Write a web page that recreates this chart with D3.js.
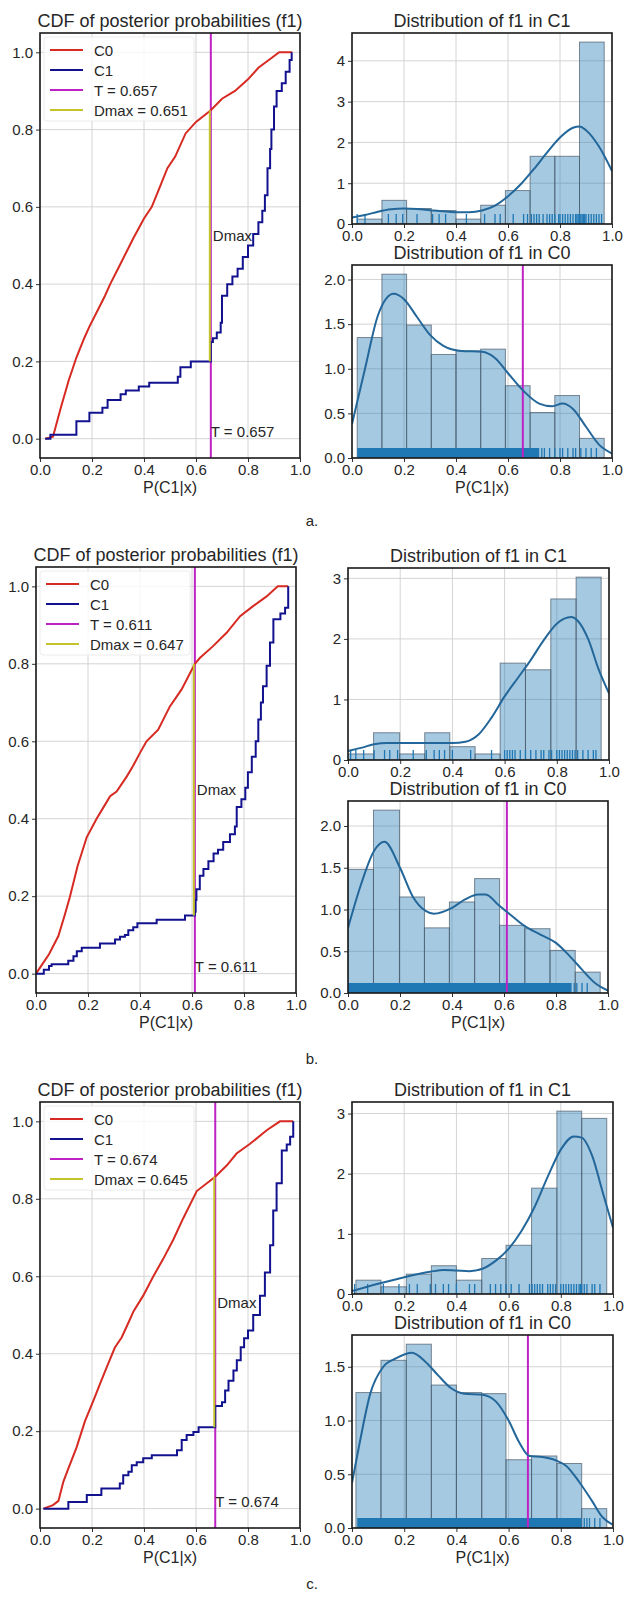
<!DOCTYPE html>
<html>
<head>
<meta charset="utf-8">
<script src="https://cdn.jsdelivr.net/npm/d3@7"></script>
<style>
body { margin: 0; background: #fff; }
text { font-family: "Liberation Sans", Arial, sans-serif; fill: #262626; }
</style>
</head>
<body>
<div id="canvas"></div>
<script>
var w = 624;
var h = 1599;

// ---- data ----
var xTicks = [0, 0.2, 0.4, 0.6, 0.8, 1.0];
var cdfYTicks = [0, 0.2, 0.4, 0.6, 0.8, 1.0];
var letters = ["a.", "b.", "c."];
var thresholds = [0.657, 0.611, 0.674];
var dmaxValues = [0.651, 0.647, 0.645];
var c1YTicks = [[0, 1, 2, 3, 4], [0, 1, 2, 3], [0, 1, 2, 3]];
var c0YTicks = [[0, 0.5, 1, 1.5, 2], [0, 0.5, 1, 1.5, 2], [0, 0.5, 1, 1.5]];

var cdfC0a = [[0.02,0],[0.05,0.005],[0.08,0.08],[0.11,0.15],[0.14,0.21],[0.17,0.26],[0.19,0.29],[0.22,0.33],[0.25,0.37],[0.27,0.40],[0.30,0.44],[0.33,0.48],[0.36,0.52],[0.40,0.57],[0.43,0.60],[0.46,0.65],[0.49,0.70],[0.52,0.73],[0.56,0.79],[0.60,0.82],[0.657,0.85],[0.70,0.88],[0.75,0.90],[0.80,0.93],[0.84,0.96],[0.88,0.98],[0.92,1.0],[0.97,1.0]];
var cdfC1a = [[0.02,0],[0.04,0.01],[0.14,0.045],[0.19,0.067],[0.24,0.08],[0.26,0.10],[0.31,0.115],[0.33,0.125],[0.38,0.135],[0.42,0.145],[0.53,0.16],[0.54,0.185],[0.58,0.20],[0.657,0.25],[0.665,0.26],[0.68,0.275],[0.695,0.30],[0.70,0.37],[0.72,0.40],[0.74,0.42],[0.76,0.44],[0.78,0.47],[0.80,0.50],[0.82,0.53],[0.84,0.56],[0.855,0.59],[0.865,0.63],[0.875,0.70],[0.885,0.75],[0.89,0.80],[0.90,0.86],[0.91,0.90],[0.93,0.92],[0.945,0.95],[0.96,0.98],[0.968,1.0]];
var cdfC0b = [[0.0,0.0],[0.02,0.02],[0.05,0.05],[0.086,0.097],[0.11,0.15],[0.13,0.197],[0.16,0.278],[0.195,0.352],[0.233,0.40],[0.26,0.43],[0.285,0.458],[0.31,0.47],[0.35,0.51],[0.373,0.536],[0.40,0.57],[0.425,0.60],[0.47,0.63],[0.515,0.69],[0.56,0.734],[0.611,0.80],[0.63,0.815],[0.68,0.845],[0.733,0.88],[0.785,0.923],[0.835,0.949],[0.887,0.974],[0.93,1.0],[0.97,1.0]];
var cdfC1b = [[0.0,0],[0.03,0.01],[0.05,0.02],[0.06,0.024],[0.124,0.033],[0.144,0.045],[0.157,0.058],[0.176,0.067],[0.246,0.078],[0.304,0.088],[0.323,0.095],[0.342,0.10],[0.355,0.112],[0.374,0.12],[0.39,0.13],[0.464,0.139],[0.573,0.15],[0.611,0.16],[0.614,0.19],[0.617,0.218],[0.63,0.253],[0.644,0.27],[0.663,0.29],[0.683,0.31],[0.70,0.32],[0.72,0.34],[0.746,0.36],[0.765,0.38],[0.772,0.43],[0.79,0.45],[0.805,0.48],[0.815,0.52],[0.83,0.56],[0.845,0.60],[0.855,0.656],[0.865,0.70],[0.873,0.742],[0.887,0.795],[0.90,0.855],[0.913,0.915],[0.94,0.93],[0.958,0.945],[0.97,1.0]];
var cdfC0c = [[0.013,0],[0.05,0.009],[0.071,0.02],[0.09,0.07],[0.11,0.105],[0.14,0.157],[0.173,0.226],[0.205,0.278],[0.23,0.321],[0.256,0.364],[0.288,0.416],[0.314,0.442],[0.34,0.48],[0.36,0.51],[0.397,0.55],[0.436,0.60],[0.474,0.645],[0.513,0.695],[0.551,0.75],[0.603,0.82],[0.674,0.857],[0.718,0.886],[0.756,0.917],[0.808,0.942],[0.872,0.977],[0.923,1.0],[0.974,1.0]];
var cdfC1c = [[0.013,0],[0.109,0.017],[0.18,0.035],[0.236,0.052],[0.307,0.065],[0.32,0.086],[0.34,0.095],[0.353,0.112],[0.372,0.12],[0.397,0.13],[0.43,0.138],[0.527,0.151],[0.545,0.177],[0.564,0.19],[0.59,0.198],[0.61,0.21],[0.674,0.265],[0.70,0.275],[0.712,0.305],[0.725,0.33],[0.744,0.357],[0.757,0.383],[0.772,0.417],[0.785,0.44],[0.80,0.46],[0.82,0.50],[0.846,0.55],[0.865,0.61],[0.885,0.68],[0.897,0.77],[0.91,0.84],[0.93,0.925],[0.949,0.94],[0.962,0.96],[0.974,1.0]];

var binEdgesA = [0.02,0.115,0.21,0.305,0.40,0.495,0.59,0.685,0.78,0.875,0.97];
var binEdgesB = [0.0,0.098,0.198,0.294,0.39,0.487,0.583,0.68,0.777,0.874,0.97];
var binEdgesC = [0.015,0.111,0.208,0.304,0.40,0.497,0.59,0.688,0.785,0.88,0.976];
var histC1a = [0.12,0.58,0.38,0.33,0.12,0.46,0.82,1.66,1.66,4.46];
var histC0a = [1.35,2.06,1.49,1.16,1.2,1.22,0.81,0.51,0.70,0.22];
var histC1b = [0.1,0.45,0.1,0.45,0.22,0.1,1.6,1.49,2.66,3.02];
var histC0b = [1.48,2.19,1.15,0.78,1.09,1.37,0.81,0.77,0.51,0.25];
var histC1c = [0.23,0.12,0.33,0.47,0.23,0.59,0.81,1.76,3.04,2.92];
var histC0c = [1.26,1.56,1.71,1.33,1.26,1.25,0.635,0.67,0.60,0.18];

var kdeC1a = [[0,0.16],[0.05,0.22],[0.1,0.3],[0.15,0.36],[0.2,0.38],[0.25,0.37],[0.3,0.34],[0.35,0.31],[0.4,0.29],[0.45,0.29],[0.5,0.33],[0.55,0.45],[0.6,0.68],[0.65,0.98],[0.7,1.35],[0.75,1.75],[0.8,2.12],[0.85,2.36],[0.875,2.39],[0.9,2.3],[0.95,1.9],[1.0,1.3]];
var kdeC0a = [[0,0.38],[0.05,1.0],[0.1,1.6],[0.16,1.84],[0.2,1.78],[0.25,1.58],[0.3,1.38],[0.35,1.26],[0.42,1.2],[0.5,1.19],[0.55,1.12],[0.6,0.95],[0.66,0.75],[0.72,0.61],[0.77,0.58],[0.81,0.61],[0.85,0.55],[0.9,0.35],[0.95,0.15],[1.0,0.05]];
var kdeC1b = [[0,0.15],[0.05,0.2],[0.1,0.26],[0.15,0.28],[0.2,0.28],[0.3,0.28],[0.4,0.28],[0.45,0.3],[0.5,0.42],[0.55,0.7],[0.6,1.05],[0.65,1.35],[0.7,1.65],[0.75,1.98],[0.8,2.25],[0.855,2.36],[0.88,2.3],[0.92,2.0],[0.96,1.5],[1.0,1.1]];
var kdeC0b = [[0,0.78],[0.05,1.3],[0.1,1.7],[0.14,1.81],[0.2,1.5],[0.25,1.15],[0.3,0.98],[0.33,0.95],[0.4,1.02],[0.45,1.12],[0.5,1.18],[0.53,1.18],[0.58,1.05],[0.62,0.95],[0.68,0.8],[0.74,0.7],[0.8,0.6],[0.85,0.45],[0.9,0.28],[0.95,0.12],[1.0,0.03]];
var kdeC1c = [[0,0.05],[0.1,0.17],[0.2,0.28],[0.3,0.37],[0.35,0.4],[0.4,0.39],[0.45,0.38],[0.5,0.42],[0.55,0.55],[0.6,0.75],[0.65,1.05],[0.7,1.45],[0.75,1.95],[0.8,2.4],[0.85,2.62],[0.88,2.6],[0.92,2.3],[0.96,1.7],[1.0,1.1]];
var kdeC0c = [[0,0.42],[0.03,0.8],[0.07,1.25],[0.12,1.5],[0.17,1.58],[0.23,1.63],[0.28,1.55],[0.33,1.42],[0.38,1.3],[0.43,1.25],[0.5,1.24],[0.55,1.18],[0.6,1.0],[0.64,0.8],[0.68,0.67],[0.73,0.66],[0.78,0.63],[0.82,0.58],[0.87,0.43],[0.92,0.25],[0.96,0.1],[1.0,0.03]];

var rugC1a = [0.02,0.05,0.14,0.17,0.195,0.25,0.31,0.335,0.36,0.44,0.51,0.55,0.57,0.62,0.66,0.675,0.69,0.70,0.71,0.72,0.735,0.75,0.76,0.77,0.78,0.795,0.80,0.81,0.82,0.83,0.84,0.85,0.86,0.865,0.87,0.875,0.88,0.885,0.89,0.895,0.90,0.91,0.92,0.93,0.94,0.95,0.96];
var rugC1b = [0.01,0.03,0.06,0.10,0.14,0.16,0.19,0.25,0.30,0.33,0.35,0.37,0.40,0.47,0.55,0.60,0.61,0.62,0.63,0.64,0.66,0.68,0.70,0.72,0.74,0.75,0.77,0.78,0.80,0.81,0.82,0.83,0.84,0.85,0.86,0.87,0.88,0.90,0.92,0.94,0.95];
var rugC1c = [0.01,0.06,0.12,0.18,0.22,0.25,0.30,0.32,0.35,0.37,0.40,0.45,0.47,0.53,0.55,0.57,0.59,0.61,0.64,0.68,0.69,0.70,0.71,0.72,0.73,0.75,0.76,0.77,0.78,0.80,0.81,0.82,0.83,0.84,0.85,0.86,0.87,0.875,0.88,0.89,0.90,0.92,0.93,0.95];
var rugBandC0 = [[0.02, 0.72], [0.0, 0.86], [0.02, 0.88]];
var rugC0a = [0.73,0.74,0.76,0.78,0.80,0.81,0.83,0.85,0.86,0.88,0.90,0.92,0.94];
var rugC0b = [0.87,0.88,0.90,0.92];
var rugC0c = [0.89,0.90,0.91,0.93,0.95];

// layout of the three rows
var layouts = [
  { cdf: [40, 300, 33, 458], c1: [352, 612, 33, 224], c0: [352, 612, 265, 458], cap: 520 },
  { cdf: [36, 296, 567, 993], c1: [348, 609, 568, 760], c0: [348, 608, 801, 993], cap: 1058 },
  { cdf: [40, 300, 1102, 1528], c1: [352, 613, 1102, 1294], c0: [352, 613, 1335, 1528], cap: 1583 }
];

var rows = [
  { c0: cdfC0a, c1: cdfC1a, edges: binEdgesA, h1: histC1a, h0: histC0a, k1: kdeC1a, k0: kdeC0a, r1: rugC1a, r0: rugC0a },
  { c0: cdfC0b, c1: cdfC1b, edges: binEdgesB, h1: histC1b, h0: histC0b, k1: kdeC1b, k0: kdeC0b, r1: rugC1b, r0: rugC0b },
  { c0: cdfC0c, c1: cdfC1c, edges: binEdgesC, h1: histC1c, h0: histC0c, k1: kdeC1c, k0: kdeC0c, r1: rugC1c, r0: rugC0c }
];

var colC0 = "#d62a22", colC1 = "#12128f", colT = "#bf22c4", colD = "#c4c42a";
var histCol = "#1f77b4", gridCol = "#d4d4d4";

var svg = d3.select("#canvas").append("svg")
  .attr("width", w).attr("height", h)
  .style("background-color", "white");

var clipId = 0;

function frameAxes(g, box, x, y, yTicks, title, xlabel) {
  var x0 = box[0], x1 = box[1], y0 = box[2], y1 = box[3];
  g.append("g").selectAll("line").data(xTicks).join("line")
    .attr("x1", d => x(d)).attr("x2", d => x(d))
    .attr("y1", y0).attr("y2", y1)
    .attr("stroke", gridCol).attr("stroke-width", 1);
  g.append("g").selectAll("line").data(yTicks).join("line")
    .attr("x1", x0).attr("x2", x1)
    .attr("y1", d => y(d)).attr("y2", d => y(d))
    .attr("stroke", gridCol).attr("stroke-width", 1);

  g.append("text")
    .attr("x", (x0 + x1) / 2).attr("y", y0 - 6)
    .attr("text-anchor", "middle")
    .style("font-size", "18px")
    .text(title);
  if (xlabel) {
    g.append("text")
      .attr("x", (x0 + x1) / 2).attr("y", y1 + 35)
      .attr("text-anchor", "middle")
      .style("font-size", "16px")
      .text(xlabel);
  }
}

function finishAxes(g, box, x, y, yTicks, yFmt) {
  var x0 = box[0], x1 = box[1], y0 = box[2], y1 = box[3];
  var xa = g.append("g").attr("transform", "translate(0," + y1 + ")")
    .call(d3.axisBottom(x).tickValues(xTicks).tickFormat(d3.format(".1f")).tickSize(4).tickPadding(2));
  var ya = g.append("g").attr("transform", "translate(" + x0 + ",0)")
    .call(d3.axisLeft(y).tickValues(yTicks).tickFormat(yFmt).tickSize(4).tickPadding(3));
  [xa, ya].forEach(function (a) {
    a.select(".domain").remove();
    a.selectAll("line").attr("stroke", "#333");
    a.selectAll("text").style("font-size", "15px").style("font-family", "'Liberation Sans', Arial, sans-serif").attr("fill", "#262626");
  });
  g.append("rect")
    .attr("x", x0).attr("y", y0)
    .attr("width", x1 - x0).attr("height", y1 - y0)
    .attr("fill", "none").attr("stroke", "#1a1a1a").attr("stroke-width", 1.6);
}

function makeClip(box) {
  clipId++;
  svg.append("clipPath").attr("id", "clip" + clipId)
    .append("rect").attr("x", box[0]).attr("y", box[2])
    .attr("width", box[1] - box[0]).attr("height", box[3] - box[2]);
  return "url(#clip" + clipId + ")";
}

function drawCdf(box, row, T, D) {
  var g = svg.append("g");
  var x = d3.scaleLinear().domain([0, 1]).range([box[0], box[1]]);
  var y = d3.scaleLinear().domain([-0.05, 1.05]).range([box[3], box[2]]);
  frameAxes(g, box, x, y, cdfYTicks, "CDF of posterior probabilities (f1)", "P(C1|x)");
  var inner = g.append("g").attr("clip-path", makeClip(box));

  inner.append("line")
    .attr("x1", x(T)).attr("x2", x(T)).attr("y1", box[2]).attr("y2", box[3])
    .attr("stroke", colT).attr("stroke-width", 2);

  var lineSmooth = d3.line().x(d => x(d[0])).y(d => y(d[1]));
  var lineStep = d3.line().x(d => x(d[0])).y(d => y(d[1])).curve(d3.curveStepAfter);
  inner.append("path").attr("d", lineSmooth(row.c0))
    .attr("fill", "none").attr("stroke", colC0).attr("stroke-width", 2);
  inner.append("path").attr("d", lineStep(row.c1))
    .attr("fill", "none").attr("stroke", colC1).attr("stroke-width", 2);

  // value of each curve at the threshold
  var c0AtT = row.c0.filter(d => d[0] <= T + 1e-9).pop()[1];
  var c1AtT = row.c1.filter(d => d[0] < T - 1e-9).pop()[1];
  inner.append("line")
    .attr("x1", x(T) - 1).attr("x2", x(T) - 1).attr("y1", y(c1AtT)).attr("y2", y(c0AtT))
    .attr("stroke", colD).attr("stroke-width", 2);

  g.append("text")
    .attr("x", x(T) + 2).attr("y", y((c0AtT + c1AtT) / 2))
    .attr("dominant-baseline", "central")
    .style("font-size", "15px").text("Dmax");
  g.append("text")
    .attr("x", x(T)).attr("y", y(0) - 2)
    .style("font-size", "15px").text("T = " + T.toFixed(3));

  finishAxes(g, box, x, y, cdfYTicks, d3.format(".1f"));

  var legendData = [
    { label: "C0", color: colC0 },
    { label: "C1", color: colC1 },
    { label: "T = " + T.toFixed(3), color: colT },
    { label: "Dmax = " + D.toFixed(3), color: colD }
  ];
  var lg = g.append("g").attr("transform", "translate(" + (box[0] + 4) + "," + (box[2] + 4) + ")");
  lg.append("rect").attr("width", 150).attr("height", 84).attr("rx", 3)
    .attr("fill", "white").attr("fill-opacity", 0.8)
    .attr("stroke", "#ececec");
  var items = lg.selectAll("g").data(legendData).join("g")
    .attr("transform", (d, i) => "translate(0," + (13 + i * 20) + ")");
  items.append("line").attr("x1", 6).attr("x2", 39).attr("y1", 0).attr("y2", 0)
    .attr("stroke", d => d.color).attr("stroke-width", 2);
  items.append("text").attr("x", 50).attr("y", 0).attr("dominant-baseline", "central")
    .style("font-size", "15px").text(d => d.label);
}

function drawHist(box, edges, heights, kde, rug, band, yTicks, yFmt, title, xlabel, T) {
  var g = svg.append("g");
  var x = d3.scaleLinear().domain([0, 1]).range([box[0], box[1]]);
  var y = d3.scaleLinear().domain([0, d3.max(heights) * 1.05]).range([box[3], box[2]]);
  frameAxes(g, box, x, y, yTicks, title, xlabel);
  var inner = g.append("g").attr("clip-path", makeClip(box));

  inner.selectAll("rect").data(heights).join("rect")
    .attr("x", (d, i) => x(edges[i]))
    .attr("width", (d, i) => x(edges[i + 1]) - x(edges[i]))
    .attr("y", d => y(d))
    .attr("height", d => y(0) - y(d))
    .attr("fill", histCol).attr("fill-opacity", 0.4)
    .attr("stroke", "#4a5a68").attr("stroke-opacity", 0.7).attr("stroke-width", 1);

  var rugH = 10;
  if (band) {
    inner.append("rect")
      .attr("x", x(band[0])).attr("width", x(band[1]) - x(band[0]))
      .attr("y", y(0) - rugH).attr("height", rugH)
      .attr("fill", histCol);
  }
  inner.append("g").selectAll("line").data(rug).join("line")
    .attr("x1", d => x(d)).attr("x2", d => x(d))
    .attr("y1", y(0)).attr("y2", y(0) - rugH)
    .attr("stroke", histCol).attr("stroke-width", 1.3);

  if (T !== undefined) {
    inner.append("line")
      .attr("x1", x(T)).attr("x2", x(T)).attr("y1", box[2]).attr("y2", box[3])
      .attr("stroke", colT).attr("stroke-width", 2);
  }

  var kdeLine = d3.line().x(d => x(d[0])).y(d => y(d[1])).curve(d3.curveMonotoneX);
  inner.append("path").attr("d", kdeLine(kde))
    .attr("fill", "none").attr("stroke", "#23679a").attr("stroke-width", 2);

  finishAxes(g, box, x, y, yTicks, yFmt);
}

rows.forEach(function (row, i) {
  var L = layouts[i];
  drawCdf(L.cdf, row, thresholds[i], dmaxValues[i]);
  drawHist(L.c1, row.edges, row.h1, row.k1, row.r1, null, c1YTicks[i], d3.format("d"),
    "Distribution of f1 in C1", null);
  drawHist(L.c0, row.edges, row.h0, row.k0, row.r0, rugBandC0[i], c0YTicks[i], d3.format(".1f"),
    "Distribution of f1 in C0", "P(C1|x)", thresholds[i]);
  svg.append("text")
    .attr("x", 312).attr("y", L.cap)
    .attr("text-anchor", "middle").attr("dominant-baseline", "central")
    .style("font-size", "15px").attr("fill", "#444")
    .text(letters[i]);
});
</script>
</body>
</html>
